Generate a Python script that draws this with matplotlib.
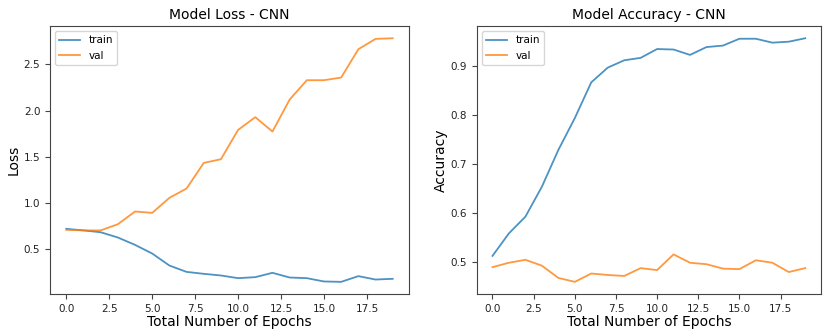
import matplotlib
matplotlib.use("Agg")
import matplotlib.pyplot as plt
import numpy as np

epochs = np.arange(20)

train_loss = [0.717, 0.700, 0.680, 0.623, 0.543, 0.449, 0.319, 0.250, 0.229, 0.211,
              0.182, 0.193, 0.240, 0.189, 0.182, 0.146, 0.142, 0.204, 0.167, 0.175]
val_loss = [0.706, 0.700, 0.700, 0.767, 0.905, 0.890, 1.053, 1.154, 1.432, 1.472,
            1.790, 1.928, 1.772, 2.119, 2.329, 2.329, 2.358, 2.665, 2.777, 2.784]

train_acc = [0.513, 0.559, 0.593, 0.654, 0.729, 0.794, 0.867, 0.897, 0.912, 0.917,
             0.935, 0.934, 0.923, 0.939, 0.942, 0.956, 0.956, 0.948, 0.950, 0.957]
val_acc = [0.490, 0.499, 0.505, 0.493, 0.468, 0.460, 0.477, 0.474, 0.472, 0.488,
           0.484, 0.516, 0.499, 0.496, 0.487, 0.486, 0.504, 0.499, 0.480, 0.488]

fig = plt.figure(figsize=(8.25, 3.3), dpi=100)
ax1 = fig.add_axes([0.0606, 0.109, 0.4352, 0.812])
ax2 = fig.add_axes([0.578, 0.109, 0.417, 0.812])

panels = [
    (ax1, train_loss, val_loss, 'Model Loss - CNN', 'Loss'),
    (ax2, train_acc, val_acc, 'Model Accuracy - CNN', 'Accuracy'),
]
for ax, tr, va, title, ylab in panels:
    ax.plot(epochs, tr, color='tab:blue', alpha=0.8, lw=1.3, label='train')
    ax.plot(epochs, va, color='tab:orange', alpha=0.8, lw=1.3, label='val')
    ax.set_title(title, fontsize=10, pad=5)
    ax.set_xlabel('Total Number of Epochs', fontsize=10, labelpad=1)
    ax.set_ylabel(ylab, fontsize=10, labelpad=2)
    ax.tick_params(labelsize=7.5, color='#444444', labelcolor='#222222')
    for s in ax.spines.values():
        s.set_edgecolor('#444444')
    ax.legend(loc='upper left', fontsize=7.5)

fig.savefig('out.png', dpi=100)
